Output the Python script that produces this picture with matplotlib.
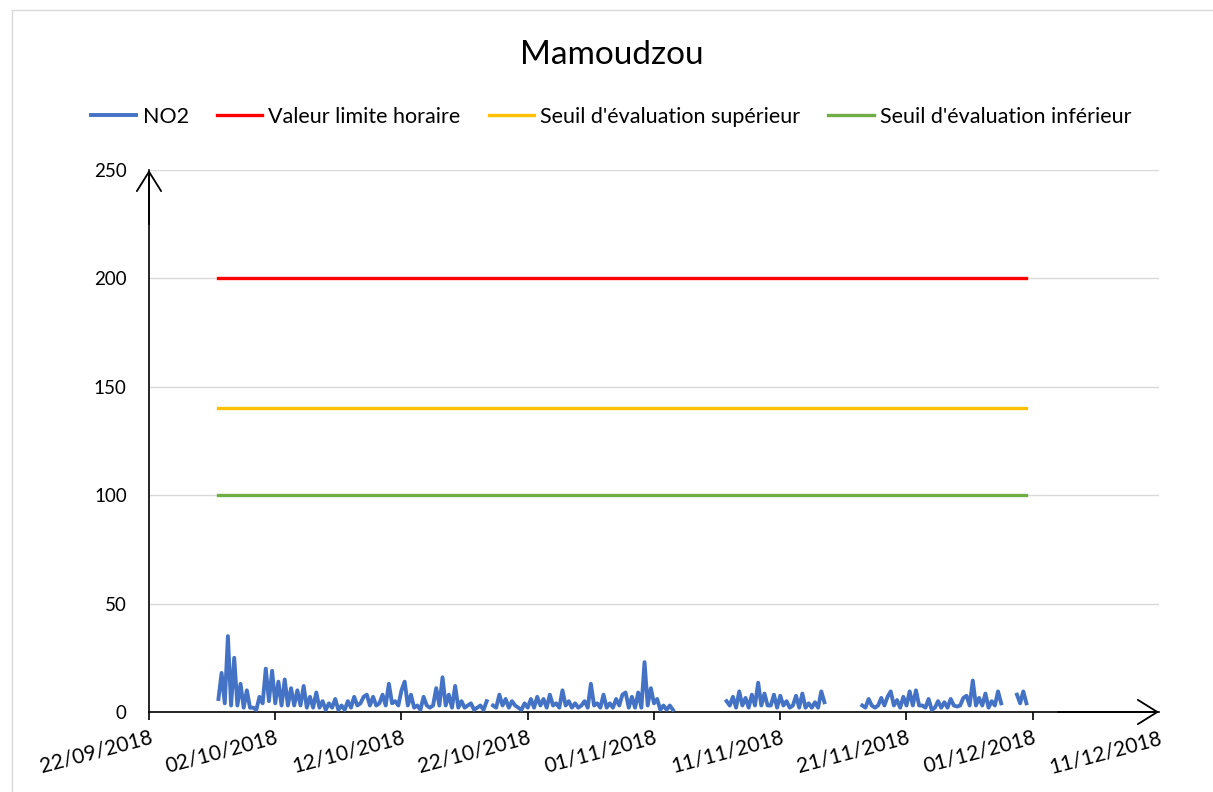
import matplotlib
matplotlib.use("Agg")
import matplotlib.pyplot as plt
import matplotlib.dates as mdates
import numpy as np
import pandas as pd

plt.rcParams['font.family'] = ['Lato', 'DejaVu Sans']

seg1_start = "2018-09-27 12:00"
seg1 = [6, 18, 4, 35, 3, 25, 3, 13, 2, 10, 2, 2, 1, 7, 4, 20, 5, 19, 4, 14,
        3, 15, 3, 11, 3, 10, 3, 12, 2, 7, 2, 9, 2, 5, 1, 4, 2, 6, 1, 3,
        1, 5, 2, 7, 3, 4, 7, 8, 3, 7, 3, 4, 8, 3, 13, 4, 5, 3, 10, 14,
        3, 8, 2, 3, 1, 7, 3, 2, 3, 11, 3, 16, 3, 8, 2, 12, 2, 5, 2, 3,
        4, 1, 2, 3, 1, 5, np.nan, 3, 2, 8, 3, 6, 2, 5, 3, 2, 1, 4, 2, 6,
        2, 7, 3, 6, 2, 8, 3, 4, 2, 10, 3, 5, 2, 4, 2, 3, 5, 2, 13, 3,
        4, 2, 8, 2, 4, 2, 6, 3, 8, 9, 2, 7, 2, 9, 2, 23, 3, 11, 4, 6,
        1, 3, 1, 3, 1]
seg2_start = "2018-11-06 18:00"
seg2 = [5, 3, 7, 2, 9.5, 3, 6.5, 2, 8, 3, 13.5, 3, 8.5, 3, 3, 8, 2, 7.5, 3, 5,
        2, 3, 7.5, 2, 8.5, 2, 4, 2, 4.5, 2, 9.5, 4.5]
seg3_start = "2018-11-17 12:00"
seg3 = [3, 2, 6, 3, 2, 3, 6.5, 3, 7, 9.5, 3, 5.5, 2, 7, 3, 9.5, 3, 10, 3, 3,
        2, 6, 1, 2, 5, 2, 4.5, 2, 6, 3, 2.5, 3, 6.5, 7.5, 3, 14.5, 3, 6.5, 3, 8.5,
        2, 5, 3, 9.5, 4]
seg4_start = "2018-11-29 18:00"
seg4 = [8, 4, 9.5, 4]

limit_start = pd.Timestamp("2018-09-27 12:00")
limit_end = pd.Timestamp("2018-11-30 12:00")
valeur_limite = 200
seuil_sup = 140
seuil_inf = 100

labels = ["NO2", "Valeur limite horaire", "Seuil d'évaluation supérieur",
          "Seuil d'évaluation inférieur"]
colors = ["#4472C4", "#FF0000", "#FFC000", "#70AD47"]

no2 = pd.concat([
    pd.Series(seg1, index=pd.date_range(seg1_start, periods=len(seg1), freq="6h")),
    pd.Series([np.nan], index=[pd.Timestamp("2018-11-04")]),
    pd.Series(seg2, index=pd.date_range(seg2_start, periods=len(seg2), freq="6h")),
    pd.Series([np.nan], index=[pd.Timestamp("2018-11-16")]),
    pd.Series(seg3, index=pd.date_range(seg3_start, periods=len(seg3), freq="6h")),
    pd.Series([np.nan], index=[pd.Timestamp("2018-11-29")]),
    pd.Series(seg4, index=pd.date_range(seg4_start, periods=len(seg4), freq="6h")),
])

fig = plt.figure(figsize=(12.13, 7.92), dpi=100)
ax = fig.add_axes([149 / 1213, 1 - 712 / 792, (1159 - 149) / 1213, (712 - 170) / 792])

ax.plot(no2.index, no2.values, color=colors[0], lw=2.8, label=labels[0],
        solid_joinstyle="round", zorder=3)
xs = [limit_start, limit_end]
ax.plot(xs, [valeur_limite] * 2, color=colors[1], lw=2.4, label=labels[1])
ax.plot(xs, [seuil_sup] * 2, color=colors[2], lw=2.4, label=labels[2])
ax.plot(xs, [seuil_inf] * 2, color=colors[3], lw=2.4, label=labels[3])

ax.set_xlim(pd.Timestamp("2018-09-22"), pd.Timestamp("2018-12-11"))
ax.set_ylim(0, 250)
ax.set_yticks(range(0, 251, 50))
ax.yaxis.grid(True, color="#D9D9D9", lw=1)
ax.set_axisbelow(True)
ax.tick_params(axis="y", length=0, pad=16, labelsize=13.5)

ticks = pd.date_range("2018-09-22", "2018-12-01", freq="10D")
ax.set_xticks(ticks)
ax.xaxis.set_major_formatter(mdates.DateFormatter("%d/%m/%Y"))
ax.tick_params(axis="x", direction="out", length=6, width=1.2, labelsize=15, pad=5)
for lab in ax.get_xticklabels():
    lab.set_rotation(15)
    lab.set_ha("right")
    lab.set_rotation_mode("anchor")
# last label at the arrow tip, without tick mark
ax.text(pd.Timestamp("2018-12-11"), -0.03, "11/12/2018", transform=ax.get_xaxis_transform(),
        rotation=15, ha="right", va="top", rotation_mode="anchor", fontsize=15)

for s in ["top", "right"]:
    ax.spines[s].set_visible(False)
ax.spines["left"].set_linewidth(1.2)
ax.spines["bottom"].set_linewidth(1.2)
arrow = dict(arrowstyle="->, head_length=0.4, head_width=0.25", lw=1.3,
             mutation_scale=35, color="black", shrinkA=0, shrinkB=0)
ax.annotate("", xy=(0, 1.0), xytext=(0, 0.9), xycoords="axes fraction", arrowprops=arrow)
ax.annotate("", xy=(1.0, 0), xytext=(0.9, 0), xycoords="axes fraction", arrowprops=arrow)

fig.text(0.504, 1 - 55 / 792, "Mamoudzou", ha="center", va="center", fontsize=24)
fig.legend(loc="center", bbox_to_anchor=(0.504, 1 - 117 / 792), ncol=4, frameon=False,
           fontsize=15.5, handlelength=2.1, handletextpad=0.3, columnspacing=1.3)

# chart area border
fig.add_artist(plt.Line2D([12 / 1213, 12 / 1213], [0, 1 - 10 / 792], color="#D9D9D9",
                          lw=1, transform=fig.transFigure))
fig.add_artist(plt.Line2D([12 / 1213, 1], [1 - 10 / 792, 1 - 10 / 792], color="#D9D9D9",
                          lw=1, transform=fig.transFigure))

fig.savefig("out.png", dpi=100)
